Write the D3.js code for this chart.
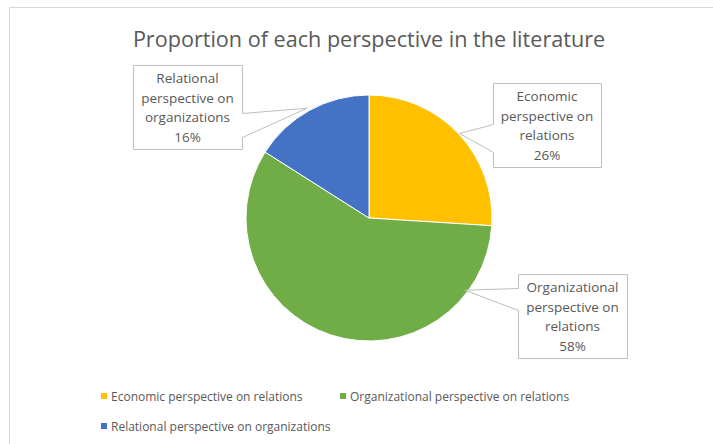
<!DOCTYPE html>
<html>
<head>
<meta charset="utf-8">
<script src="https://cdn.jsdelivr.net/npm/d3@7"></script>
<style>
    body { margin: 0; background: #fff; }
    text { font-family: "Open Sans", "Liberation Sans", sans-serif; fill: #595959; }
</style>
</head>
<body>
<script>
// data
var categories = ["Economic perspective on relations", "Organizational perspective on relations", "Relational perspective on organizations"];
var shares = [26, 58, 16];
var colors = ["#FFC000", "#70AD47", "#4472C4"];
// data label text, split into lines like the original callouts
var labelLines = [
    ["Economic", "perspective on", "relations"],
    ["Organizational", "perspective on", "relations"],
    ["Relational", "perspective on", "organizations"]
];

var w = 713, h = 444;
var cx = 369, cy = 218, r = 123;

var svg = d3.select("body").append("svg")
    .attr("width", w)
    .attr("height", h);

// chart area border (only top and left are visible in the crop)
svg.append("rect")
    .attr("x", 9.5).attr("y", 7.5)
    .attr("width", 760).attr("height", 500)
    .style("fill", "none")
    .style("stroke", "#d9d9d9");

// title
svg.append("text")
    .attr("x", 369).attr("y", 47)
    .attr("text-anchor", "middle")
    .style("font-size", "21.6px")
    .text("Proportion of each perspective in the literature");

var data = categories.map(function(c, i){
    return { name: c, value: shares[i], color: colors[i], lines: labelLines[i] };
});

var pie = d3.pie().sort(null).value(function(d){ return d.value; });
var arc = d3.arc().innerRadius(0).outerRadius(r);
var arcs = pie(data);

var g = svg.append("g").attr("transform", "translate(" + cx + "," + cy + ")");

g.selectAll(".slice")
    .data(arcs)
    .enter()
    .append("path")
    .attr("class", "slice")
    .attr("d", arc)
    .style("fill", function(d){ return d.data.color; })
    .style("stroke", "#fff")
    .style("stroke-width", 1);

// callout boxes: position, size, side of the tail and where it points
var boxes = [
    { x: 493, y: 83, w: 108, h: 84, side: "left", t0: 41, t1: 69, ang: 47, rad: 124 },
    { x: 518, y: 274, w: 109, h: 84, side: "left", t0: 14, t1: 36, ang: 127, rad: 120 },
    { x: 133, y: 65, w: 109, h: 84, side: "right", t0: 48, t1: 72, ang: 330.6, rad: 126 }
];

var fmt = d3.format(".0%");
var total = d3.sum(shares);

boxes.forEach(function(b, i){
    var a = b.ang * Math.PI / 180;
    var tx = cx + b.rad * Math.sin(a), ty = cy - b.rad * Math.cos(a);
    var x0 = b.x + 0.5, y0 = b.y + 0.5, x1 = b.x + b.w + 0.5, y1 = b.y + b.h + 0.5;
    var p = d3.path();
    p.moveTo(x0, y0);
    p.lineTo(x1, y0);
    if (b.side == "right") {
        p.lineTo(x1, y0 + b.t0);
        p.lineTo(tx, ty);
        p.lineTo(x1, y0 + b.t1);
    }
    p.lineTo(x1, y1);
    p.lineTo(x0, y1);
    if (b.side == "left") {
        p.lineTo(x0, y0 + b.t1);
        p.lineTo(tx, ty);
        p.lineTo(x0, y0 + b.t0);
    }
    p.closePath();
    svg.append("path")
        .attr("d", p.toString())
        .style("fill", "#fff")
        .style("stroke", "#bfbfbf");

    var lines = data[i].lines.concat([fmt(data[i].value / total)]);
    var t = svg.append("text")
        .attr("text-anchor", "middle")
        .style("font-size", "13.5px");
    lines.forEach(function(s, k){
        t.append("tspan")
            .attr("x", b.x + b.w / 2)
            .attr("y", b.y + 18 + k * 19.5)
            .text(s);
    });
});

// legend
var legendPos = [[101, 396], [340, 396], [101, 426]];
var legend = svg.selectAll(".legend")
    .data(data)
    .enter()
    .append("g")
    .attr("class", "legend")
    .attr("transform", function(d, i){ return "translate(" + legendPos[i][0] + "," + legendPos[i][1] + ")"; });

legend.append("rect")
    .attr("x", 0).attr("y", -3)
    .attr("width", 6).attr("height", 6)
    .style("fill", function(d){ return d.color; });

legend.append("text")
    .attr("x", 10).attr("y", 4.5)
    .style("font-size", "12px")
    .text(function(d){ return d.name; });
</script>
</body>
</html>
